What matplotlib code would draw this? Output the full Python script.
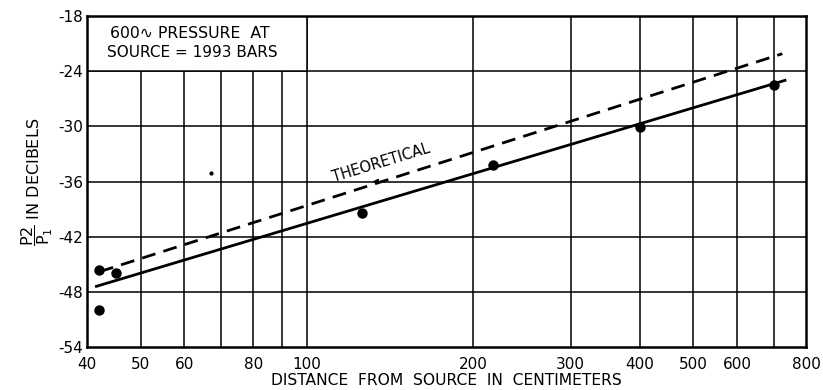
import matplotlib
matplotlib.use("Agg")
import matplotlib.pyplot as plt
from matplotlib.patches import Rectangle
from matplotlib.ticker import FixedLocator, FixedFormatter, NullLocator

# ---- data ----
measured_x = [42.0, 42.0, 45.1, 126, 217, 400, 701]
measured_y = [-45.6, -50.0, -45.9, -39.4, -34.2, -30.1, -25.5]
speck_x = [67.0]
speck_y = [-35.1]
fit_x = [41.6, 733]
fit_y = [-47.4, -25.0]
theory_x = [42.2, 725]
theory_y = [-45.8, -22.1]

grid_x = [50, 60, 70, 80, 90, 100, 200, 300, 400, 500, 600, 700]
grid_y = [-48, -42, -36, -30, -24]
xtick_vals = [40, 50, 60, 80, 100, 200, 300, 400, 500, 600, 800]
xtick_labels = ["40", "50", "60", "80", "100", "200", "300", "400", "500", "600", "800"]
ytick_vals = [-54, -48, -42, -36, -30, -24, -18]
ytick_labels = ["-54", "-48", "-42", "-36", "-30", "-24", "-18"]

plt.rcParams['font.family'] = ['DejaVu Sans']
plt.rcParams['mathtext.fontset'] = 'dejavusans'

fig = plt.figure(figsize=(8.23, 3.90), dpi=100)
ax = fig.add_axes([87/823, 1-347/390, (806-87)/823, (347-16)/390])
ax.set_xscale('log')
ax.set_xlim(40, 800)
ax.set_ylim(-54, -18)

for gx in grid_x:
    ax.axvline(gx, color='black', lw=1.1, zorder=1)
for gy in grid_y:
    ax.axhline(gy, color='black', lw=1.1, zorder=1)

# text box region in upper left
ax.add_patch(Rectangle((40, -24), 60, 6, facecolor='white', edgecolor='black',
                       lw=1.1, zorder=2))
ax.text(61.5, -19.9, "600\u223f PRESSURE  AT", ha='center', va='center',
        fontsize=11.3, zorder=3)
ax.text(62.0, -21.95, "SOURCE = 1993 BARS", ha='center', va='center',
        fontsize=11.0, zorder=3)

ax.plot(fit_x, fit_y, color='black', lw=2.0, zorder=4)
ax.plot(theory_x, theory_y, color='black', lw=2.0, ls=(0, (5, 3)), zorder=4)
ax.plot(measured_x, measured_y, 'o', color='black', ms=6.5, zorder=5)
ax.plot(speck_x, speck_y, 'o', color='black', ms=2, zorder=5)

ax.text(137.5, -34.75, "THEORETICAL", rotation=17, rotation_mode='anchor',
        ha='center', va='bottom', fontsize=10.5, zorder=5)
ax.annotate("", xy=(130, -36.0), xytext=(140, -36.0),
            arrowprops=dict(arrowstyle='-|>', color='black', lw=0.8,
                            mutation_scale=8), zorder=5)

ax.xaxis.set_major_locator(FixedLocator(xtick_vals))
ax.xaxis.set_major_formatter(FixedFormatter(xtick_labels))
ax.xaxis.set_minor_locator(NullLocator())
ax.yaxis.set_major_locator(FixedLocator(ytick_vals))
ax.yaxis.set_major_formatter(FixedFormatter(ytick_labels))
ax.tick_params(axis='both', length=0, labelsize=11)
ax.tick_params(axis='x', pad=7)
ax.tick_params(axis='y', pad=3)

for sp in ax.spines.values():
    sp.set_linewidth(1.8)
    sp.set_zorder(6)

ax.set_xlabel("DISTANCE  FROM  SOURCE  IN  CENTIMETERS", fontsize=11.2, labelpad=1)
ax.set_ylabel(r"$\dfrac{\mathrm{P2}}{\mathrm{P_1}}$ IN DECIBELS", fontsize=11.5, labelpad=2)

fig.savefig("out.png", dpi=100)
